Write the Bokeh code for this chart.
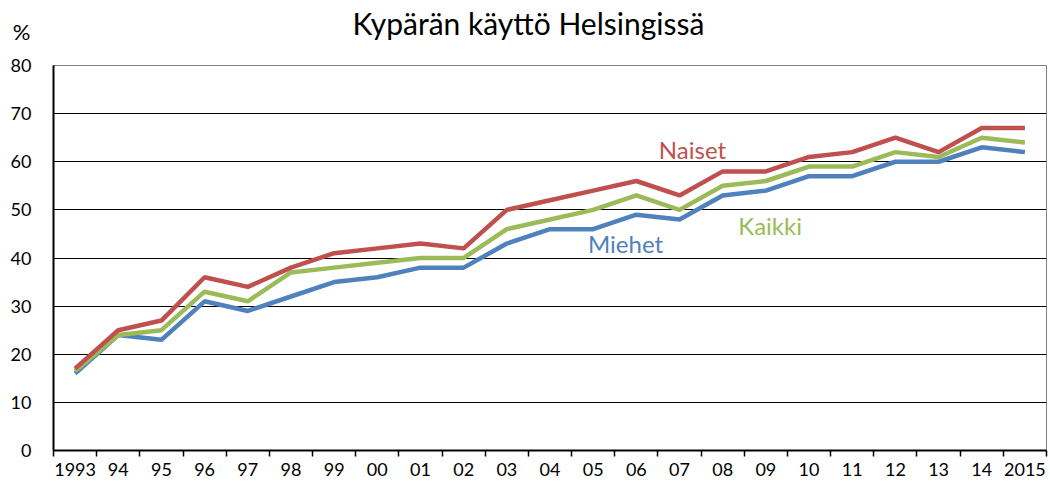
from bokeh.plotting import figure
from bokeh.layouts import column
from bokeh.models import FixedTicker, Range1d, Label, ColumnDataSource, LinearAxis
from bokeh.embed import file_html
from bokeh.resources import INLINE

years = ["1993", "94", "95", "96", "97", "98", "99", "00", "01", "02", "03", "04",
         "05", "06", "07", "08", "09", "10", "11", "12", "13", "14", "2015"]
naiset = [17, 25, 27, 36, 34, 38, 41, 42, 43, 42, 50, 52, 54, 56, 53, 58, 58, 61, 62, 65, 62, 67, 67]
kaikki = [16.5, 24, 25, 33, 31, 37, 38, 39, 40, 40, 46, 48, 50, 53, 50, 55, 56, 59, 59, 62, 61, 65, 64]
miehet = [16, 24, 23, 31, 29, 32, 35, 36, 38, 38, 43, 46, 46, 49, 48, 53, 54, 57, 57, 60, 60, 63, 62]
y_ticks = [0, 10, 20, 30, 40, 50, 60, 70, 80]
title_text = "Kypärän käyttö Helsingissä"
unit_text = "%"

FONT = "Lato"
W = 1050
HEAD_H = 55
LEFT, RIGHT = 53, 4

CAN_UNALIGN = "frame_align" in figure.properties()

# ---- header (title and unit)
if CAN_UNALIGN:
    head = figure(width=W, height=HEAD_H, output_backend="svg", toolbar_location=None,
                  x_range=Range1d(0, W), y_range=Range1d(HEAD_H, 0),
                  x_axis_type=None, y_axis_type=None,
                  min_border_left=0, min_border_right=0, min_border_top=0,
                  min_border_bottom=0)
    head.frame_align = False
    head.add_layout(Label(x=352, y=22, text=title_text, text_color="black", text_font=FONT,
                          text_font_size="30px", text_align="left",
                          text_baseline="alphabetic"))
    head.add_layout(Label(x=21, y=31, text=unit_text, text_color="black", text_font=FONT,
                          text_font_size="22px", text_align="center",
                          text_baseline="alphabetic"))
else:
    head = figure(width=W, height=HEAD_H, output_backend="svg", toolbar_location=None,
                  x_range=Range1d(LEFT, W - RIGHT), y_range=Range1d(HEAD_H, 0),
                  x_axis_type=None, y_axis_type=None,
                  min_border_left=LEFT, min_border_right=RIGHT, min_border_top=0,
                  min_border_bottom=0)
    head.add_layout(Label(x=352, y=22, text=title_text, text_color="black", text_font=FONT,
                          text_font_size="30px", text_align="left",
                          text_baseline="alphabetic"))
    ax = LinearAxis(axis_label=unit_text, axis_label_orientation="horizontal",
                    axis_label_standoff=23, axis_label_text_font=FONT,
                    axis_label_text_font_size="22px", axis_label_text_font_style="normal",
                    axis_line_color=None, major_tick_line_color=None,
                    minor_tick_line_color=None, major_label_text_font_size="0px")
    head.add_layout(ax, "left")
head.outline_line_color = None

# ---- main chart
xs = [i + 0.5 for i in range(len(years))]
src = ColumnDataSource(dict(x=xs, naiset=naiset, kaikki=kaikki, miehet=miehet))

p = figure(width=W, height=487 - HEAD_H, output_backend="svg", toolbar_location=None,
           x_range=Range1d(0, len(years)), y_range=Range1d(0, 80),
           min_border_left=LEFT, min_border_right=RIGHT, min_border_top=65 - HEAD_H,
           min_border_bottom=37)
p.outline_line_color = "#808080"
p.outline_line_width = 1
p.background_fill_color = "white"

p.line("x", "miehet", source=src, line_color="#4F81BD", line_width=4.5)
p.line("x", "kaikki", source=src, line_color="#9BBB59", line_width=4.5)
p.line("x", "naiset", source=src, line_color="#C0504D", line_width=4.5)

# x axis: labels at category centres, tick marks at category boundaries
xa = p.xaxis[0]
xa.ticker = FixedTicker(ticks=xs, minor_ticks=list(range(len(years) + 1)))
xa.major_label_overrides = {x: y for x, y in zip(xs, years)}
xa.major_tick_out = 0
xa.major_tick_in = 0
xa.minor_tick_out = 6
xa.minor_tick_in = 0
xa.minor_tick_line_color = "black"
xa.minor_tick_line_width = 1.5
xa.axis_line_color = "black"
xa.axis_line_width = 2
xa.major_label_text_font = FONT
xa.major_label_text_font_size = "18px"
xa.major_label_text_color = "black"
xa.major_label_standoff = 6

ya = p.yaxis[0]
ya.ticker = FixedTicker(ticks=y_ticks)
ya.major_tick_out = 0
ya.major_tick_in = 0
ya.minor_tick_out = 0
ya.minor_tick_in = 0
ya.axis_line_color = "black"
ya.axis_line_width = 2
ya.major_label_text_font = FONT
ya.major_label_text_font_size = "18px"
ya.major_label_text_color = "black"
ya.major_label_standoff = 22

p.xgrid.grid_line_color = None
p.ygrid.grid_line_color = "black"
p.ygrid.grid_line_width = 1
p.ygrid.ticker = FixedTicker(ticks=y_ticks)

for txt, x, y, col in [("Naiset", 14.8, 62.6, "#C0504D"),
                       ("Miehet", 13.25, 43.0, "#4F81BD"),
                       ("Kaikki", 16.6, 46.8, "#9BBB59")]:
    p.add_layout(Label(x=x, y=y, text=txt, text_color=col, text_font=FONT,
                       text_font_size="24px", text_align="center", text_baseline="middle"))

layout = column(head, p, spacing=0)
open("out.html", "w").write(file_html(layout, INLINE))
